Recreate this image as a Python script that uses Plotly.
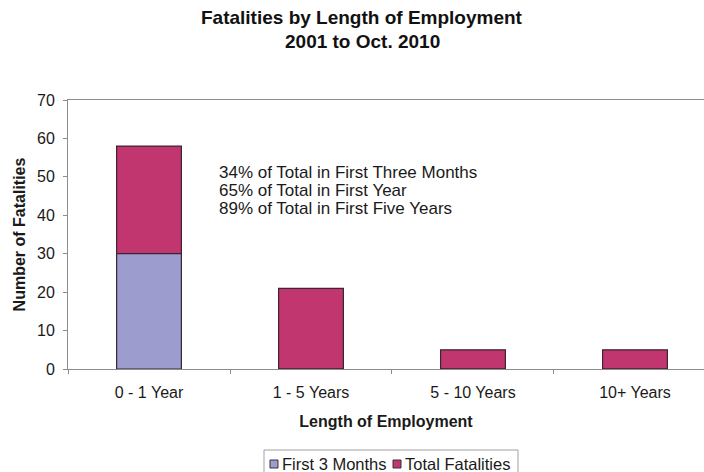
import plotly.graph_objects as go

categories = ["0 - 1 Year", "1 - 5 Years", "5 - 10 Years", "10+ Years"]
total_fatalities = [58, 21, 5, 5]
first_3_months = [30, 0, 0, 0]
y_ticks = [0, 10, 20, 30, 40, 50, 60, 70]

title_lines = ["Fatalities by Length of Employment", "2001 to Oct. 2010"]
notes = [
    "34% of Total in First Three Months",
    "65% of Total in First Year",
    "89% of Total in First Five Years",
]

PINK = "#C2366F"
LAVENDER = "#9C9CCE"
EDGE = "#3a2530"
FONT = "Liberation Sans, Arial, sans-serif"
TXT = "#1a1a1a"

# plot-area geometry in pixels
W, H = 704, 472
L, T, B = 68, 100, 369
PW, PH = W - L, B - T


def px(x):
    return (x - L) / PW


def py(y):
    return (B - y) / PH


fig = go.Figure()
# total bar behind, first-three-months share drawn over its lower part
fig.add_trace(go.Bar(
    x=categories, y=total_fatalities, name="Total Fatalities",
    marker=dict(color=PINK, line=dict(color=EDGE, width=1.2)),
    width=0.4,
))
fig.add_trace(go.Bar(
    x=categories, y=first_3_months, name="First 3 Months",
    marker=dict(color=LAVENDER, line=dict(color=EDGE, width=1.2)),
    width=0.4,
))

fig.update_layout(
    width=W, height=H,
    barmode="overlay",
    paper_bgcolor="white", plot_bgcolor="white",
    margin=dict(l=L, r=0, t=T, b=H - B, autoexpand=False),
    font=dict(family=FONT, size=16, color=TXT),
    showlegend=False,
)

fig.update_xaxes(
    range=[-0.5, 3.426],
    showline=True, linecolor="#8c8c8c", linewidth=1, mirror=True,
    ticks="outside", tickson="boundaries", ticklen=4, tickcolor="#8c8c8c",
    ticklabelstandoff=9,
    title=dict(text="<b>Length of Employment</b>",
               font=dict(family=FONT, size=16, color=TXT), standoff=15),
    tickfont=dict(family=FONT, size=16, color=TXT),
)
fig.update_yaxes(
    range=[0, 70], tickvals=y_ticks,
    showline=True, linecolor="#8c8c8c", linewidth=1,
    ticks="outside", ticklen=4, tickcolor="#8c8c8c",
    ticklabelstandoff=5,
    showgrid=False, zeroline=False,
    title=dict(text="<b>Number of Fatalities</b>",
               font=dict(family=FONT, size=16, color=TXT), standoff=7),
    tickfont=dict(family=FONT, size=16, color=TXT),
)

# two-line chart title
for text, yc in zip(title_lines, [18, 42]):
    fig.add_annotation(
        x=px(362), y=py(yc), xref="paper", yref="paper",
        text=f"<b>{text}</b>", showarrow=False,
        xanchor="center", yanchor="middle",
        font=dict(family=FONT, size=19, color="#111111"),
    )

# summary notes beside the first bar
for text, yc in zip(notes, [172, 190, 208]):
    fig.add_annotation(
        x=px(217), y=py(yc), xref="paper", yref="paper",
        text=text, showarrow=False,
        xanchor="left", yanchor="middle",
        font=dict(family=FONT, size=17, color=TXT),
    )

# legend box beneath the axis
fig.add_shape(type="rect", xref="paper", yref="paper",
              x0=px(264), x1=px(518), y0=py(450), y1=py(482),
              line=dict(color="#a0a0a0", width=1), fillcolor="white")
legend_items = [("First 3 Months", LAVENDER, 270, 280),
                ("Total Fatalities", PINK, 393, 403)]
for label, color, sx, tx in legend_items:
    fig.add_shape(type="rect", xref="paper", yref="paper",
                  x0=px(sx), x1=px(sx + 8), y0=py(468), y1=py(460),
                  line=dict(color="#333333", width=1), fillcolor=color)
    fig.add_annotation(
        x=px(tx), y=py(464), xref="paper", yref="paper",
        text=label, showarrow=False,
        xanchor="left", yanchor="middle",
        font=dict(family=FONT, size=16.5, color=TXT),
    )

fig.write_html("out.html")
